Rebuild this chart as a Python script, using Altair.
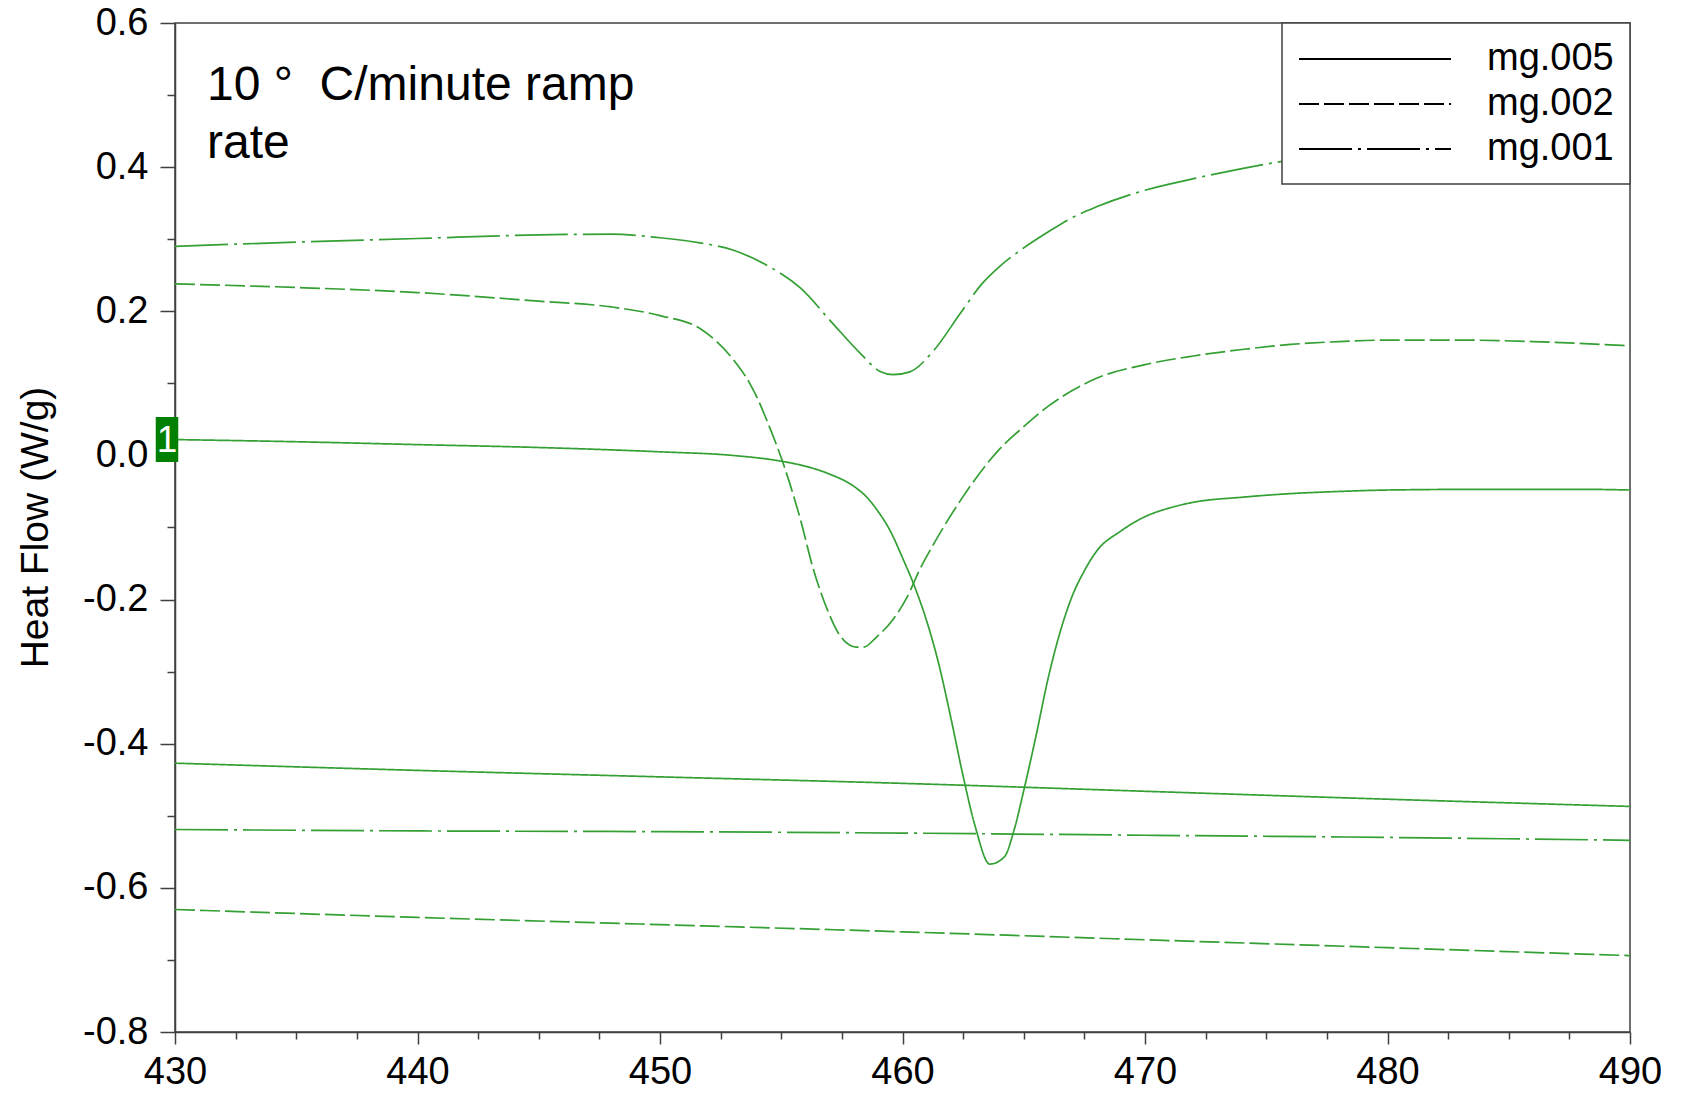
import altair as alt
import pandas as pd

# ---- data ----
series_names = ["mg.005", "mg.002", "mg.001"]

# mg.005 transition curve (solid)
a_x = [430, 435, 440, 445, 450, 453, 455, 456, 457, 458, 458.5, 459, 459.5, 460, 460.5, 461,
       461.5, 462, 462.5, 463, 463.6, 464.2, 464.6, 465, 465.5, 466, 466.5, 467, 467.5, 468,
       469, 470, 471, 472, 474, 476, 478, 480, 484, 488, 490]
a_y = [0.022, 0.019, 0.015, 0.011, 0.005, 0.000, -0.008, -0.015, -0.026, -0.043, -0.057, -0.078,
       -0.105, -0.142, -0.182, -0.230, -0.290, -0.365, -0.445, -0.515, -0.567, -0.557, -0.520,
       -0.465, -0.390, -0.310, -0.245, -0.195, -0.160, -0.133, -0.105, -0.085, -0.073, -0.065,
       -0.058, -0.053, -0.050, -0.048, -0.047, -0.047, -0.048]
# mg.005 second curve (solid, lower)
d_x = [430, 440, 450, 460, 470, 480, 490]
d_y = [-0.427, -0.437, -0.446, -0.455, -0.466, -0.477, -0.487]

# mg.002 transition curve (dashed)
b_x = [430, 435, 440, 445, 448, 450, 451.65, 453, 453.7, 454.05, 454.4, 455.1, 455.8, 456.3,
       456.9, 457.4, 458.1, 458.4, 458.9, 459.6, 460.2, 460.7, 461.3, 462.4, 463.9, 465, 466,
       467, 468, 470, 472, 474, 476, 478, 480, 483, 486, 490]
b_y = [0.238, 0.233, 0.226, 0.214, 0.206, 0.194, 0.176, 0.134, 0.100, 0.077, 0.049, -0.013,
       -0.090, -0.155, -0.214, -0.249, -0.266, -0.266, -0.253, -0.228, -0.196, -0.159, -0.122,
       -0.062, 0.005, 0.040, 0.068, 0.090, 0.107, 0.126, 0.138, 0.147, 0.154, 0.158, 0.160,
       0.160, 0.158, 0.152]
# mg.002 second curve (dashed, lower)
f_x = [430, 440, 450, 460, 470, 480, 490]
f_y = [-0.630, -0.641, -0.651, -0.661, -0.672, -0.683, -0.694]

# mg.001 transition curve (dash-dot)
c_x = [430, 435, 440, 445, 448, 450, 451.65, 453, 454.4, 455.8, 457.1, 458.25, 459.1, 459.6,
       460.3, 461.3, 462.4, 463.3, 464, 465, 466, 467, 468, 470, 472, 474, 476, 480, 485, 490]
c_y = [0.290, 0.296, 0.301, 0.306, 0.307, 0.302, 0.295, 0.285, 0.264, 0.232, 0.184, 0.142,
       0.116, 0.112, 0.116, 0.146, 0.198, 0.239, 0.262, 0.288, 0.310, 0.330, 0.345, 0.368,
       0.384, 0.398, 0.410, 0.430, 0.445, 0.455]
# mg.001 second curve (dash-dot, lower)
e_x = [430, 440, 450, 460, 470, 480, 490]
e_y = [-0.519, -0.521, -0.522, -0.524, -0.527, -0.530, -0.534]

x_ticks = [430 + 2.5 * i for i in range(25)]
y_ticks = [round(-0.8 + 0.05 * i, 2) for i in range(29)]

annotation = "10 °\u00a0 C/minute ramp\nrate"
marker_label = "1"

# ---- build table ----
rows = []
for cid, (sname, xs, ys) in enumerate([
    ("mg.005", a_x, a_y), ("mg.005", d_x, d_y),
    ("mg.002", b_x, b_y), ("mg.002", f_x, f_y),
    ("mg.001", c_x, c_y), ("mg.001", e_x, e_y),
]):
    for xv, yv in zip(xs, ys):
        rows.append({"x": xv, "y": yv, "series": sname, "curve": cid})
df = pd.DataFrame(rows)

FONT = "Liberation Sans"
GREEN = "#34a034"
AX = "#404040"

xscale = alt.Scale(domain=[430, 490], nice=False, zero=False)
yscale = alt.Scale(domain=[-0.8, 0.6], nice=False, zero=False)

y_major = "abs(datum.value*5 - round(datum.value*5)) < 0.001"
x_axis = alt.Axis(
    values=x_ticks, title=None, grid=False,
    labelExpr="datum.value % 10 === 0 ? datum.label : ''",
    format="d", labelOverlap=False, labelFlush=False,
    tickSize={"condition": {"test": "datum.value % 10 === 0", "value": 12}, "value": 7},
    labelPadding=9,
)
y_axis = alt.Axis(
    values=y_ticks, title="Heat Flow (W/g)", grid=False,
    labelExpr=y_major + " ? replace(format(datum.value, '.1f'), '\u2212', '-') : ''",
    labelOverlap=False, labelFlush=False,
    tickSize={"condition": {"test": y_major, "value": 15}, "value": 8},
    labelPadding=12,
    titleX=-140, titleY=504, titleAngle=270, titleAlign="center", titleBaseline="middle",
)

lines = alt.Chart(df).mark_line(color=GREEN, strokeWidth=1.7, interpolate="monotone").encode(
    x=alt.X("x:Q", scale=xscale, axis=x_axis),
    y=alt.Y("y:Q", scale=yscale, axis=y_axis),
    strokeDash=alt.StrokeDash(
        "series:N",
        scale=alt.Scale(domain=series_names, range=[[1, 0], [20, 5], [53, 6, 3, 6]]),
        legend=alt.Legend(title=None),
    ),
    detail="curve:N",
    order="x:Q",
)

marker_df = pd.DataFrame({"x": [a_x[0]], "y": [a_y[0]], "t": [marker_label]})
marker_box = alt.Chart(marker_df).mark_point(
    shape="M-0.5,-1H0.5V1H-0.5Z", size=2025, filled=True, opacity=1,
    color="#008000", xOffset=-8,
).encode(x=alt.X("x:Q", scale=xscale), y=alt.Y("y:Q", scale=yscale))
marker_text = alt.Chart(marker_df).mark_text(
    color="white", fontSize=37, font=FONT, xOffset=-8, baseline="middle", align="center", dy=1,
).encode(x=alt.X("x:Q", scale=xscale), y=alt.Y("y:Q", scale=yscale), text="t:N")

ann_df = pd.DataFrame({"x": [431.32], "y": [0.493], "t": [annotation]})
ann = alt.Chart(ann_df).mark_text(
    fontSize=48, font=FONT, color="black", align="left", baseline="alphabetic",
    lineBreak="\n", lineHeight=58,
).encode(x=alt.X("x:Q", scale=xscale), y=alt.Y("y:Q", scale=yscale), text="t:N")

chart = alt.layer(lines, marker_box, marker_text, ann).properties(
    width=1455, height=1009,
    autosize=alt.AutoSizeParams(type="none"),
    padding={"left": 175, "top": 23, "right": 51, "bottom": 61},
).configure_view(
    stroke=AX, strokeWidth=1.5,
).configure_axis(
    domainColor=AX, domainWidth=1.5, tickColor=AX, tickWidth=1.5,
    labelFont=FONT, labelFontSize=38, labelColor="black",
    titleFont=FONT, titleFontSize=39, titleFontWeight="normal", titleColor="black",
).configure_legend(
    orient="top-right", offset=0, fillColor="white", strokeColor=AX, strokeWidth=1.5,
    padding=16, symbolType="M-4,0H4", symbolSize=1444, symbolStrokeWidth=2,
    symbolOffset=57, symbolStrokeColor="black", labelFont=FONT, labelFontSize=38,
    labelColor="black", labelOffset=92, rowPadding=6, labelLimit=400,
)

chart.save("out.html", embed_options={"renderer": "svg", "actions": False})
